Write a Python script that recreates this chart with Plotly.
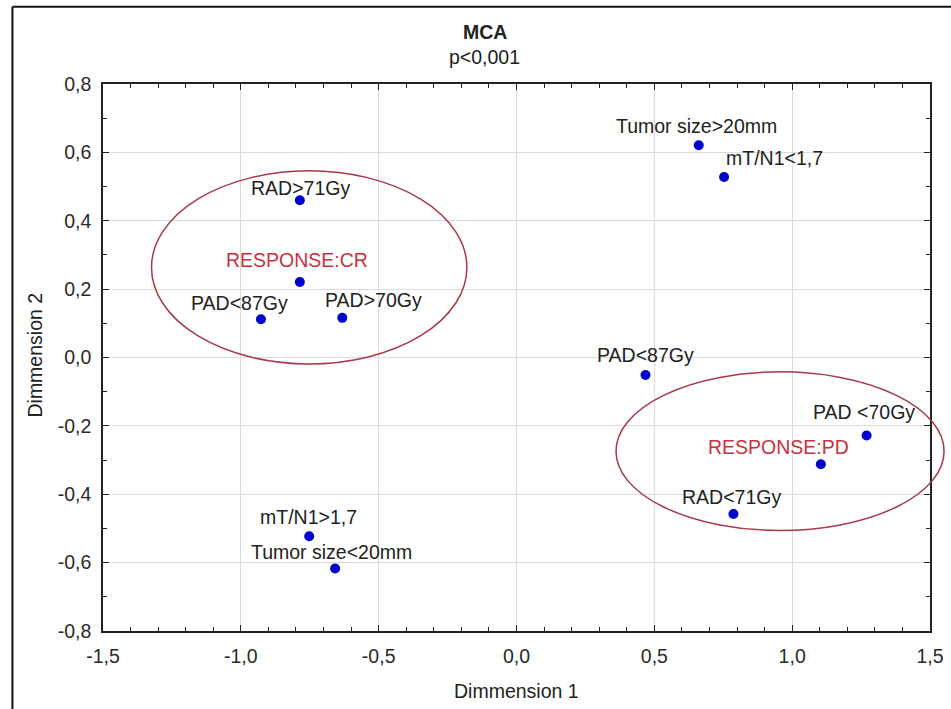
import plotly.graph_objects as go

# ---- data ----
labels = ["RAD>71Gy", "RESPONSE:CR", "PAD<87Gy", "PAD>70Gy",
          "Tumor size>20mm", "mT/N1<1,7", "mT/N1>1,7", "Tumor size<20mm",
          "PAD<87Gy", "PAD <70Gy", "RESPONSE:PD", "RAD<71Gy"]
dim1 = [-0.786, -0.786, -0.927, -0.632, 0.661, 0.753, -0.752, -0.658,
        0.468, 1.270, 1.104, 0.787]
dim2 = [0.460, 0.221, 0.112, 0.116, 0.621, 0.528, -0.523, -0.617,
        -0.051, -0.228, -0.312, -0.458]
is_response = [False, True, False, False, False, False, False, False,
               False, False, True, False]

# ellipses grouping (x0, x1, y0, y1 in data units)
ellipse_x0 = [-1.324, 0.361]
ellipse_x1 = [-0.180, 1.551]
ellipse_y0 = [-0.019, -0.506]
ellipse_y1 = [0.546, -0.042]

x_tickvals = [-1.5, -1.0, -0.5, 0.0, 0.5, 1.0, 1.5]
x_ticktext = ["-1,5", "-1,0", "-0,5", "0,0", "0,5", "1,0", "1,5"]
y_tickvals = [-0.8, -0.6, -0.4, -0.2, 0.0, 0.2, 0.4, 0.6, 0.8]
y_ticktext = ["-0,8", "-0,6", "-0,4", "-0,2", "0,0", "0,2", "0,4", "0,6", "0,8"]

# label offsets in pixels (styling)
label_dx = [1, -3, -21, 31, -2, 50, -1, -4, 0, -3, -42, -2]
label_dy = [12, 22, 16, 18, 19, 19, 19, 16, 20, 23, 17, 17]

XMIN, XMAX = -1.5, 1.5
YMIN, YMAX = -0.8, 0.8
FONT = "Liberation Sans, Arial, sans-serif"
FS = 19.5

fig = go.Figure()
fig.add_trace(go.Scatter(
    x=dim1, y=dim2, mode="markers",
    marker=dict(color="#0000cc", size=10, line=dict(width=0)),
    hoverinfo="text", text=labels, showlegend=False, cliponaxis=False))

for lab, x, y, r, dx, dy in zip(labels, dim1, dim2, is_response, label_dx, label_dy):
    fig.add_annotation(x=x, y=y, text=lab, showarrow=False,
                       xanchor="center", yanchor="middle",
                       xshift=dx, yshift=dy,
                       font=dict(family=FONT, size=FS,
                                 color="#c8323e" if r else "#222222"))

for x0, x1, y0, y1 in zip(ellipse_x0, ellipse_x1, ellipse_y0, ellipse_y1):
    fig.add_shape(type="circle", xref="paper", yref="y",
                  x0=(x0 - XMIN) / (XMAX - XMIN), x1=(x1 - XMIN) / (XMAX - XMIN),
                  y0=y0, y1=y1,
                  line=dict(color="#a8384a", width=1.5))

# outer frame (left and top edges visible)
fig.add_shape(type="line", xref="paper", yref="paper",
              x0=-0.1095, x1=-0.1095, y0=-0.2, y1=1.1414,
              line=dict(color="#111111", width=2))
fig.add_shape(type="line", xref="paper", yref="paper",
              x0=-0.1095, x1=1.03, y0=1.1414, y1=1.1414,
              line=dict(color="#111111", width=2))

# titles
fig.add_annotation(xref="paper", yref="paper", x=0.4614, y=1.0951,
                   text="<b>MCA</b>", showarrow=False,
                   font=dict(family=FONT, size=FS, color="#222222"),
                   xanchor="center", yanchor="middle")
fig.add_annotation(xref="paper", yref="paper", x=0.4614, y=1.0494,
                   text="p&lt;0,001", showarrow=False,
                   font=dict(family=FONT, size=FS, color="#222222"),
                   xanchor="center", yanchor="middle")
fig.add_annotation(xref="paper", yref="paper", x=0.5, y=-0.1097,
                   text="Dimmension 1", showarrow=False,
                   font=dict(family=FONT, size=FS, color="#222222"),
                   xanchor="center", yanchor="middle")
fig.add_annotation(xref="paper", yref="paper", x=-0.0825, y=0.505,
                   text="Dimmension 2", showarrow=False, textangle=-90,
                   font=dict(family=FONT, size=FS, color="#222222"),
                   xanchor="center", yanchor="middle")

axis_common = dict(
    showline=True, linecolor="#222222", linewidth=1.5, mirror="ticks",
    ticks="inside", ticklen=6, tickwidth=1.2, tickcolor="#222222",
    showgrid=True, gridcolor="#dcdcdc", gridwidth=1,
    zeroline=False,
    tickfont=dict(family=FONT, size=FS, color="#2a2a2a"),
)
fig.update_xaxes(range=[XMIN, XMAX], tickvals=x_tickvals, ticktext=x_ticktext,
                 minor=dict(ticks="inside", ticklen=4, dtick=0.1, tick0=0,
                            tickcolor="#222222", showgrid=False),
                 ticklabelstandoff=7, **axis_common)
fig.update_yaxes(range=[YMIN, YMAX], tickvals=y_tickvals, ticktext=y_ticktext,
                 minor=dict(ticks="inside", ticklen=4, dtick=0.1, tick0=0,
                            tickcolor="#222222", showgrid=False),
                 ticklabelstandoff=6, **axis_common)

fig.update_layout(
    width=951, height=709,
    margin=dict(l=103, r=21, t=84, b=78, autoexpand=False),
    paper_bgcolor="white", plot_bgcolor="white",
    font=dict(family=FONT, size=FS, color="#222222"),
    showlegend=False,
)

fig.write_html("out.html")
